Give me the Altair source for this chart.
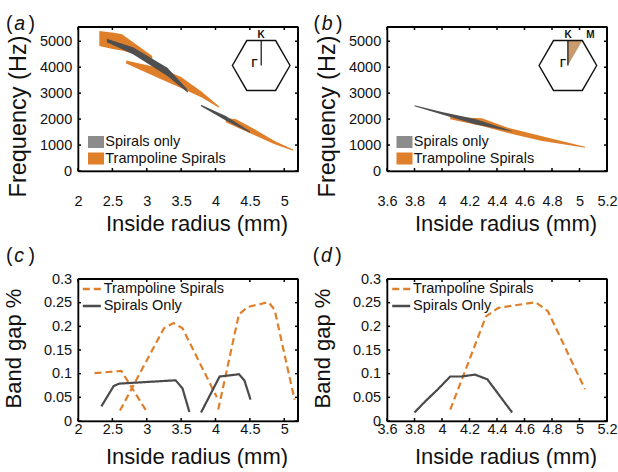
import altair as alt
import numpy as np
import pandas as pd

FONT = "Liberation Sans"
ORANGE = "#E07F2A"
GRAY_SWATCH = "#8C8C8C"
GRAY_BAND = "#4F4F4F"
GRAY_LINE = "#4A4A4A"
INK = "#111111"
FRAME = "#000000"
TAN = "#C99A6E"

SPIR_A = "Spirals only"
SPIR_C = "Spirals Only"
TRAMP = "Trampoline Spirals"

# (a) Γ–K path: band-gap edges (Hz) against inside radius (mm)
a_tramp_r = [[2.31, 2.52, 2.64, 3.08], [2.70, 3.20, 3.50, 3.80, 4.05], [4.15, 4.30, 4.57, 4.86, 5.13]]
a_tramp_lo = [[4820, 4690, 4640, 4310], [4140, 3550, 3200, 2830, 2440], [1880, 1700, 1380, 1030, 780]]
a_tramp_hi = [[5400, 5330, 5270, 4430], [4260, 3960, 3620, 3050, 2500], [2040, 1990, 1610, 1160, 830]]
a_spir_r = [[2.42, 2.80, 3.30, 3.58, 3.60], [3.79, 4.15, 4.50]]
a_spir_lo = [[4960, 4500, 3660, 3050, 3030], [2500, 1950, 1470]]
a_spir_hi = [[5100, 4770, 3980, 3180, 3050], [2550, 2120, 1530]]

# (b) Γ–K–M path
b_tramp_r = [[4.06, 4.29, 4.48, 4.72, 5.04]]
b_tramp_lo = [[1990, 1730, 1460, 1170, 900]]
b_tramp_hi = [[2080, 2030, 1670, 1350, 930]]
b_spir_r = [[3.80, 4.00, 4.24, 4.51]]
b_spir_lo = [[2500, 2180, 1800, 1520]]
b_spir_hi = [[2530, 2270, 2000, 1540]]

# (c) relative band-gap width along Γ–K
c_tramp_r = [[2.24, 2.63, 2.99], [2.61, 3.25, 3.39, 3.52, 4.02], [4.04, 4.34, 4.47, 4.77, 4.86, 5.15]]
c_tramp_v = [[0.101, 0.106, 0.022], [0.022, 0.196, 0.207, 0.196, 0.050], [0.024, 0.225, 0.241, 0.251, 0.235, 0.045]]
c_spir_r = [[2.34, 2.52, 2.60, 3.42, 3.52, 3.62], [3.79, 4.06, 4.30, 4.34, 4.42, 4.51]]
c_spir_v = [[0.031, 0.074, 0.079, 0.086, 0.069, 0.019], [0.018, 0.094, 0.098, 0.099, 0.086, 0.045]]

# (d) relative band-gap width along Γ–K–M
d_tramp_r = [[4.06, 4.32, 4.41, 4.68, 4.77, 5.04]]
d_tramp_v = [[0.024, 0.221, 0.239, 0.251, 0.232, 0.067]]
d_spir_r = [[3.80, 3.88, 3.97, 4.06, 4.14, 4.24, 4.33, 4.51]]
d_spir_v = [[0.018, 0.042, 0.067, 0.094, 0.094, 0.098, 0.088, 0.018]]

# axis ticks
x_ticks_gk = [2, 2.5, 3, 3.5, 4, 4.5, 5]
x_ticks_gkm = [3.6, 3.8, 4.0, 4.2, 4.4, 4.6, 4.8, 5.0, 5.2]
freq_ticks = [0, 1000, 2000, 3000, 4000, 5000]
gap_ticks = [0, 0.05, 0.1, 0.15, 0.2, 0.25, 0.3]

W, H_TOP, H_BOT = 220, 144, 142
TICK = 3


def single():
    return pd.DataFrame({"k": [0]})


def band_frame(series, rs, los, his):
    rows = []
    for k, (r, lo, hi) in enumerate(zip(rs, los, his)):
        for ri, l, h in zip(r, lo, hi):
            rows.append({"series": series, "seg": k, "r": ri, "lo": l, "hi": h})
    return pd.DataFrame(rows)


def line_frame(series, rs, vs):
    rows = []
    for k, (r, v) in enumerate(zip(rs, vs)):
        for ri, vi in zip(r, v):
            rows.append({"series": series, "seg": f"{series}{k}", "r": ri, "v": vi})
    return pd.DataFrame(rows)


def hex_path():
    ang = np.deg2rad(np.arange(0, 360, 60))
    pts = [f"{np.cos(t):.4f},{np.sin(t):.4f}" for t in ang]
    return "M" + "L".join(pts) + "Z"


def symbol(path, cx, cy, radius, fill=None, stroke=INK, sw=1.4):
    kw = dict(shape=path, size=(2 * radius) ** 2, opacity=1, strokeWidth=sw)
    if fill:
        kw.update(filled=True, fill=fill, strokeWidth=0)
    else:
        kw.update(filled=False, color=stroke)
    return alt.Chart(single()).mark_point(**kw).encode(x=alt.value(cx), y=alt.value(cy))


def label(text, x, y, size=10, weight="bold", style="normal", align="center", baseline="middle"):
    return alt.Chart(single()).mark_text(
        text=text, font=FONT, fontSize=size, fontWeight=weight, fontStyle=style,
        align=align, baseline=baseline, color=INK,
    ).encode(x=alt.value(x), y=alt.value(y))


def panel_tag(letter, x0, y0):
    return [
        label("(", x0, y0, size=19.5, weight="normal", align="left", baseline="alphabetic"),
        label(letter, x0 + 8.3, y0, size=19.5, weight="normal", style="italic", align="left", baseline="alphabetic"),
        label(")", x0 + 22.5, y0, size=19.5, weight="normal", align="left", baseline="alphabetic"),
    ]


def x_axis(values, pad, title_y):
    return alt.Axis(values=values, format=".6~g", labelPadding=pad, labelOverlap=False, labelFlush=False,
                    title="Inside radius (mm)", titleX=118.5, titleY=title_y,
                    titleAlign="center", titleBaseline="alphabetic",
                    domain=True, domainColor=FRAME, domainWidth=1.5)


def y_axis(values, title, title_x, title_y, title_size):
    return alt.Axis(values=values, format=".6~g", labelPadding=6.3, labelOverlap=False, labelFlush=False,
                    title=title, titleAngle=270, titleX=title_x, titleY=title_y, titleFontSize=title_size,
                    titleAlign="center", titleBaseline="alphabetic",
                    domain=True, domainColor=FRAME, domainWidth=1.5)


def box_layers(xenc, yenc, x_vals, y_vals, h):
    """Top and right edges of the box plus short inward ticks on all four sides."""
    xt = pd.DataFrame({"tx": x_vals})
    yt = pd.DataFrame({"ty": y_vals})
    edge = dict(color=FRAME, strokeWidth=2, opacity=1)
    tick = dict(color=FRAME, strokeWidth=1.5, opacity=1)
    return [
        alt.Chart(xt).mark_rule(**tick).encode(x=xenc("tx"), y=alt.value(h), y2=alt.value(h - TICK)),
        alt.Chart(xt).mark_rule(**tick).encode(x=xenc("tx"), y=alt.value(0), y2=alt.value(TICK)),
        alt.Chart(yt).mark_rule(**tick).encode(y=yenc("ty"), x=alt.value(0), x2=alt.value(TICK)),
        alt.Chart(yt).mark_rule(**tick).encode(y=yenc("ty"), x=alt.value(W), x2=alt.value(W - TICK)),
        alt.Chart(single()).mark_rule(**edge).encode(x=alt.value(0), x2=alt.value(W), y=alt.value(0)),
        alt.Chart(single()).mark_rule(**edge).encode(y=alt.value(0), y2=alt.value(h), x=alt.value(W)),
    ]


def band_panel(tramp, spir, x_dom, x_vals, letter, tag_x, legend_x, inset):
    xs = alt.Scale(domain=x_dom, nice=False, zero=False)
    ys = alt.Scale(domain=[0, 5550], nice=False)
    xax = x_axis(x_vals, 23.7, 59.3)
    yax = y_axis(freq_ticks, "Frequency (Hz)", -52.2, 89, 23.5)

    def xenc(f):
        return alt.X(f"{f}:Q", scale=xs, axis=xax)

    def yenc(f):
        return alt.Y(f"{f}:Q", scale=ys, axis=yax)

    legend = alt.Legend(
        title=None, orient="none", legendX=legend_x, legendY=107, padding=0,
        symbolType="M-1,-0.75L1,-0.75L1,0.75L-1,0.75Z", symbolSize=256, symbolStrokeWidth=0,
        symbolOpacity=1, rowPadding=1.5, labelOffset=1.3, labelFontSize=14.5, labelFont=FONT,
        labelColor=INK, labelLimit=0,
    )
    orange = alt.Chart(tramp).mark_area(opacity=1, interpolate="linear").encode(
        x=xenc("r"), y=yenc("lo"), y2="hi:Q", detail="seg:N",
        color=alt.Color("series:N", scale=alt.Scale(domain=[SPIR_A, TRAMP], range=[GRAY_SWATCH, ORANGE]),
                        legend=legend),
    )
    gray = alt.Chart(spir).mark_area(opacity=1, color=GRAY_BAND, interpolate="linear").encode(
        x=xenc("r"), y=yenc("lo"), y2="hi:Q", detail="seg:N",
    )
    layers = [orange, gray, *box_layers(xenc, yenc, x_vals, freq_ticks, H_TOP), *inset,
              *panel_tag(letter, tag_x, 3.2)]
    return alt.layer(*layers).properties(width=W, height=H_TOP)


def gap_panel(tramp, spir, x_dom, x_vals, letter, tag_x, legend_x):
    data = pd.concat([tramp, spir], ignore_index=True)
    xs = alt.Scale(domain=x_dom, nice=False, zero=False)
    ys = alt.Scale(domain=[0, 0.3], nice=False)
    xax = x_axis(x_vals, 1.6, 42)
    yax = y_axis(gap_ticks, "Band gap %", -57.2, 69, 22)

    def xenc(f):
        return alt.X(f"{f}:Q", scale=xs, axis=xax)

    def yenc(f):
        return alt.Y(f"{f}:Q", scale=ys, axis=yax)

    legend = alt.Legend(
        title=None, orient="none", legendX=legend_x, legendY=-0.5, padding=0,
        symbolType="stroke", symbolSize=324, symbolStrokeWidth=2.5, symbolOpacity=1,
        rowPadding=0, labelOffset=1.4, labelFontSize=14.5, labelFont=FONT, labelColor=INK, labelLimit=0,
    )
    lines = alt.Chart(data).mark_line(strokeWidth=2.2, opacity=1).encode(
        x=xenc("r"), y=yenc("v"), detail="seg:N",
        color=alt.Color("series:N", scale=alt.Scale(domain=[TRAMP, SPIR_C], range=[ORANGE, GRAY_LINE]),
                        legend=legend),
        strokeDash=alt.StrokeDash("series:N", scale=alt.Scale(domain=[TRAMP, SPIR_C], range=[[7, 4], [1, 0]]),
                                  legend=legend),
    )
    layers = [lines, *box_layers(xenc, yenc, x_vals, gap_ticks, H_BOT), *panel_tag(letter, tag_x, -17.1)]
    return alt.layer(*layers).properties(width=W, height=H_BOT)


HEX = hex_path()
inset_gk = [
    symbol(HEX, 183.2, 38.5, 28.8),
    symbol("M0,0L0,-0.866", 183.2, 38.5, 28.8, sw=1.2),
    label("K", 183.2, 7.5),
    label("Γ", 176.5, 36.5),
]
inset_gkm = [
    symbol("M0,0L0,-0.866L0.5,-0.866Z", 180.9, 38.5, 28.8, fill=TAN),
    symbol(HEX, 180.9, 38.5, 28.8),
    symbol("M0,0L0,-0.866", 180.9, 38.5, 28.8, sw=1.2),
    label("K", 181, 7.5),
    label("M", 203.5, 7.5),
    label("Γ", 176, 36.5),
]

pa = band_panel(band_frame(TRAMP, a_tramp_r, a_tramp_lo, a_tramp_hi),
                band_frame(SPIR_A, a_spir_r, a_spir_lo, a_spir_hi),
                [2, 5.2], x_ticks_gk, "a", -72.1, 10, inset_gk)
pb = band_panel(band_frame(TRAMP, b_tramp_r, b_tramp_lo, b_tramp_hi),
                band_frame(SPIR_A, b_spir_r, b_spir_lo, b_spir_hi),
                [3.6, 5.2], x_ticks_gkm, "b", -73.6, 9.5, inset_gkm)
pc = gap_panel(line_frame(TRAMP, c_tramp_r, c_tramp_v), line_frame(SPIR_C, c_spir_r, c_spir_v),
               [2, 5.2], x_ticks_gk, "c", -72.1, 3.3)
pd_ = gap_panel(line_frame(TRAMP, d_tramp_r, d_tramp_v), line_frame(SPIR_C, d_spir_r, d_spir_v),
                [3.6, 5.2], x_ticks_gkm, "d", -74.2, 3.7)

chart = (
    alt.concat(pa, pb, pc, pd_, columns=2, spacing={"row": 108, "column": 89}, bounds="flush")
    .resolve_scale(color="independent", strokeDash="independent", x="independent", y="independent")
    .resolve_legend(color="independent", strokeDash="independent")
    .properties(padding={"left": 2, "top": 13, "right": 0, "bottom": 0}, background="white")
    .configure_view(stroke=FRAME, strokeWidth=1.3)
    .configure_axis(
        grid=False, ticks=False,
        labelFont=FONT, labelFontSize=14.5, labelColor=INK,
        titleFont=FONT, titleFontSize=22, titleFontWeight="normal", titleColor=INK,
    )
)

chart.save("out.html", embed_options={"renderer": "svg", "actions": False})
